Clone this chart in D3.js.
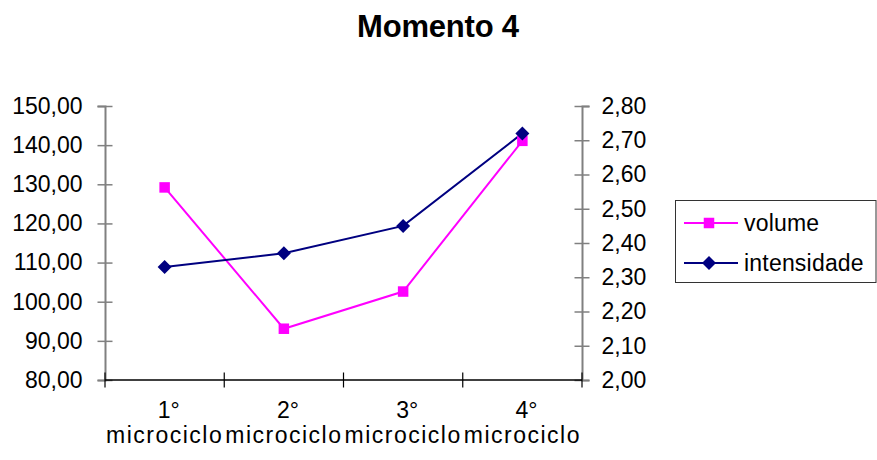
<!DOCTYPE html>
<html>
<head>
<meta charset="utf-8">
<script src="https://cdn.jsdelivr.net/npm/d3@7"></script>
<style>
  html, body { margin: 0; padding: 0; background: #fff; }
  svg { display: block; font-family: "Liberation Sans", Arial, sans-serif; }
</style>
</head>
<body>
<svg id="chart" width="877" height="460"></svg>
<script>
// Weekly cycles of the period
const categories = ["1°", "2°", "3°", "4°"];
const categorySub = "microciclo";

// Training load per microcycle
const volume = [129.2, 93.1, 102.6, 141.1];
const intensidade = [2.33, 2.37, 2.45, 2.72];

// Axis ticks
const leftTicks = [80, 90, 100, 110, 120, 130, 140, 150];
const rightTicks = [2.0, 2.1, 2.2, 2.3, 2.4, 2.5, 2.6, 2.7, 2.8];

const seriesNames = ["volume", "intensidade"];

const svg = d3.select("#chart");
const plot = { left: 105, right: 582, top: 106, bottom: 380 };
const fmt = v => v.toFixed(2).replace(".", ",");

const x = d3.scaleBand().domain(categories).range([plot.left, plot.right]);
const yL = d3.scaleLinear().domain([80, 150]).range([plot.bottom, plot.top]);
const yR = d3.scaleLinear().domain([2.0, 2.8]).range([plot.bottom, plot.top]);

// Title
svg.append("text")
  .attr("x", 438).attr("y", 37)
  .attr("text-anchor", "middle")
  .attr("font-size", 31).attr("font-weight", "bold")
  .attr("letter-spacing", -0.2)
  .text("Momento 4");

// Left axis (volume)
const gL = svg.append("g").attr("transform", `translate(${plot.left},0)`)
  .call(d3.axisLeft(yL).tickValues(leftTicks).tickFormat(fmt).tickSize(7.5).tickPadding(15));
gL.select(".domain").attr("stroke", "#808080").attr("stroke-width", 2);
gL.selectAll(".tick line").attr("x2", 7.5).attr("x1", -7.5).attr("stroke", "#808080").attr("stroke-width", 1.5);
gL.selectAll(".tick text").attr("font-size", 23).attr("fill", "#000")
  .attr("font-family", "'Liberation Sans', Arial, sans-serif");

// Right axis (intensidade)
const gR = svg.append("g").attr("transform", `translate(${plot.right},0)`)
  .call(d3.axisRight(yR).tickValues(rightTicks).tickFormat(fmt).tickSize(7.5).tickPadding(12));
gR.select(".domain").attr("stroke", "#808080").attr("stroke-width", 2);
gR.selectAll(".tick line").attr("x1", -7.5).attr("x2", 7.5).attr("stroke", "#808080").attr("stroke-width", 1.5);
gR.selectAll(".tick text").attr("font-size", 23).attr("fill", "#000")
  .attr("font-family", "'Liberation Sans', Arial, sans-serif");

// Category axis
const gX = svg.append("g").attr("transform", `translate(0,${plot.bottom})`);
gX.append("line")
  .attr("x1", plot.left).attr("x2", plot.right)
  .attr("stroke", "#000").attr("stroke-width", 1.5);
const bounds = categories.map(c => x(c)).concat([plot.right]);
gX.selectAll("line.tick").data(bounds).join("line")
  .attr("class", "tick")
  .attr("x1", d => d).attr("x2", d => d)
  .attr("y1", -7.5).attr("y2", 7.5)
  .attr("stroke", "#000").attr("stroke-width", 1.2);
const labels = gX.selectAll("text.cat").data(categories).join("text")
  .attr("class", "cat")
  .attr("text-anchor", "middle")
  .attr("font-size", 23);
labels.append("tspan")
  .attr("x", d => x(d) + x.bandwidth() / 2 + 4).attr("y", 38)
  .text(d => d);
labels.append("tspan")
  .attr("x", d => x(d) + x.bandwidth() / 2).attr("y", 63)
  .attr("letter-spacing", 1.5)
  .text(categorySub);

// Series lines
const lineL = d3.line().x((d, i) => x(categories[i]) + x.bandwidth() / 2).y(d => yL(d));
const lineR = d3.line().x((d, i) => x(categories[i]) + x.bandwidth() / 2).y(d => yR(d));

svg.append("path").datum(volume)
  .attr("d", lineL).attr("fill", "none")
  .attr("stroke", "#FF00FF").attr("stroke-width", 2);
svg.append("path").datum(intensidade)
  .attr("d", lineR).attr("fill", "none")
  .attr("stroke", "#000080").attr("stroke-width", 2);

const sq = 10.5, dm = 7;
svg.selectAll("rect.vol").data(volume).join("rect")
  .attr("class", "vol")
  .attr("x", (d, i) => x(categories[i]) + x.bandwidth() / 2 - sq / 2)
  .attr("y", d => yL(d) - sq / 2)
  .attr("width", sq).attr("height", sq)
  .attr("fill", "#FF00FF");

const diamond = `M0,${-dm}L${dm},0L0,${dm}L${-dm},0Z`;
svg.selectAll("path.int").data(intensidade).join("path")
  .attr("class", "int")
  .attr("transform", (d, i) => `translate(${x(categories[i]) + x.bandwidth() / 2},${yR(d)})`)
  .attr("d", diamond)
  .attr("fill", "#000080");

// Legend
const lg = svg.append("g");
lg.append("rect")
  .attr("x", 675.5).attr("y", 200.5).attr("width", 200.5).attr("height", 82)
  .attr("fill", "#fff").attr("stroke", "#333").attr("stroke-width", 1);
const legendY = [223, 263];
const legendColor = ["#FF00FF", "#000080"];
seriesNames.forEach((name, i) => {
  const yy = legendY[i];
  lg.append("line").attr("x1", 684).attr("x2", 738).attr("y1", yy).attr("y2", yy)
    .attr("stroke", legendColor[i]).attr("stroke-width", 2);
  if (i === 0) {
    lg.append("rect").attr("x", 709 - sq / 2).attr("y", yy - sq / 2)
      .attr("width", sq).attr("height", sq).attr("fill", legendColor[i]);
  } else {
    lg.append("path").attr("transform", `translate(709,${yy})`).attr("d", diamond)
      .attr("fill", legendColor[i]);
  }
  lg.append("text").attr("x", 744).attr("y", yy + 8)
    .attr("font-size", 23).attr("letter-spacing", 0.2).text(name);
});
</script>
</body>
</html>
